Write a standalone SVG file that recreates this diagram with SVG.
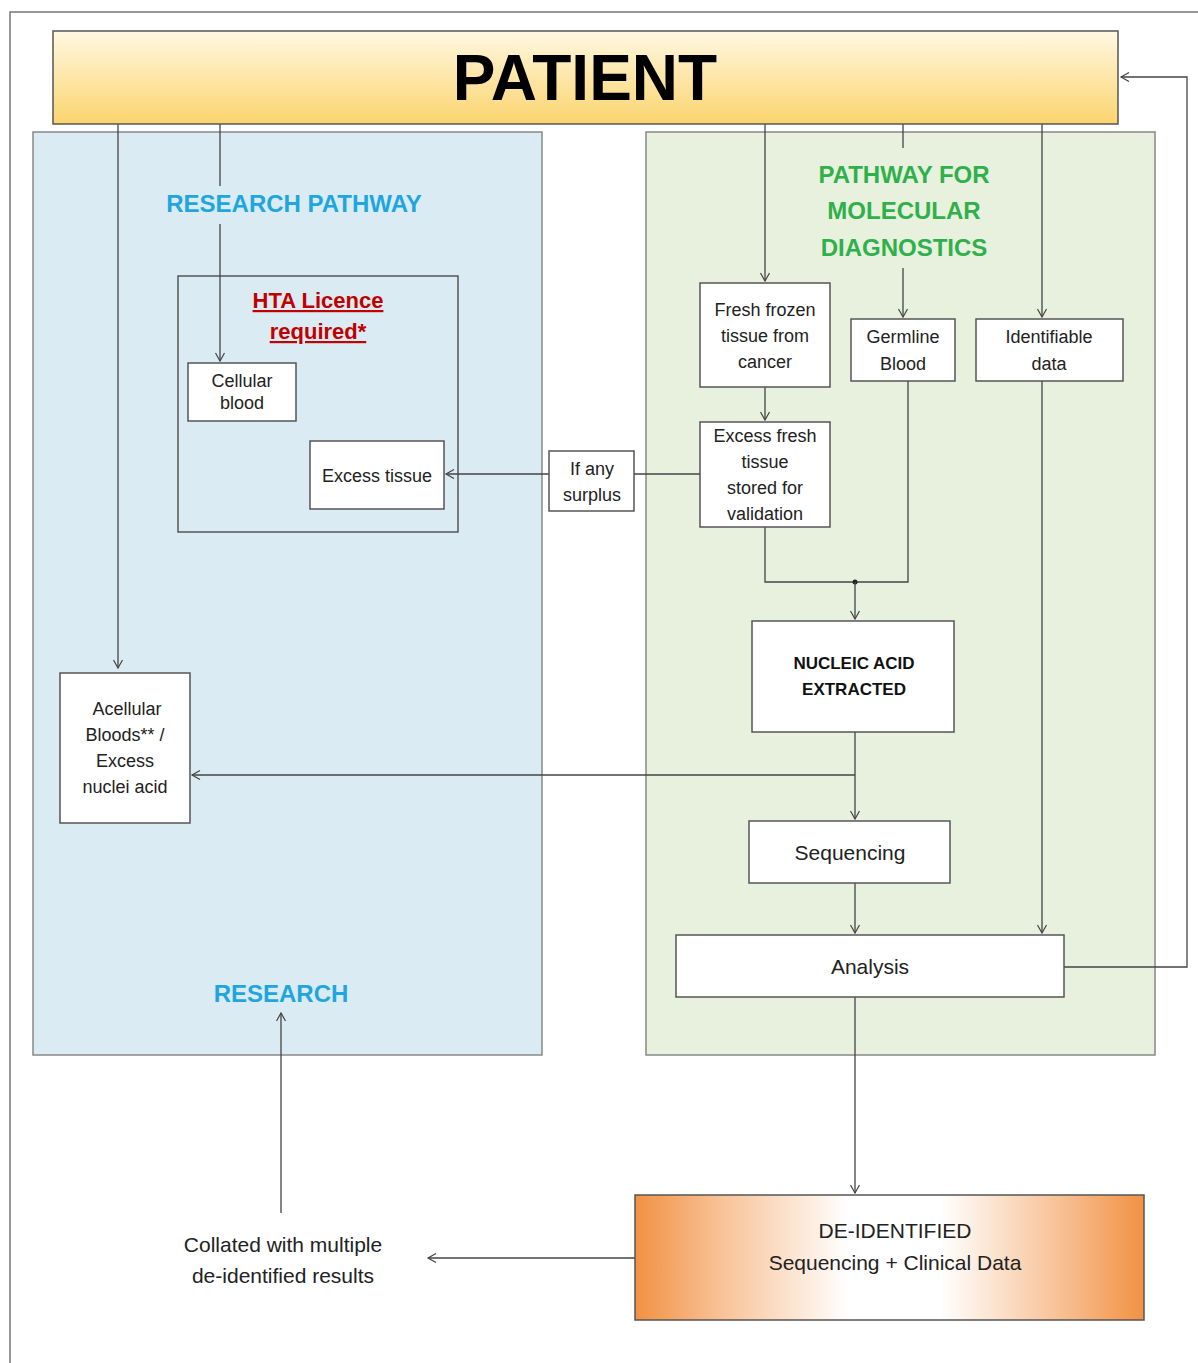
<svg xmlns="http://www.w3.org/2000/svg" width="1198" height="1363" viewBox="0 0 1198 1363">
<defs>
<linearGradient id="gPat" x1="0" y1="0" x2="0" y2="1">
<stop offset="0" stop-color="#fff8e2"/>
<stop offset="1" stop-color="#fbd46e"/>
</linearGradient>
<linearGradient id="gDe" x1="0" y1="0" x2="1" y2="0">
<stop offset="0" stop-color="#f29143"/>
<stop offset="0.18" stop-color="#f8c59c"/>
<stop offset="0.42" stop-color="#ffffff"/>
<stop offset="0.6" stop-color="#ffffff"/>
<stop offset="0.82" stop-color="#f8c59c"/>
<stop offset="1" stop-color="#f29143"/>
</linearGradient>
<marker id="arr" markerWidth="12" markerHeight="12" refX="9" refY="5" orient="auto" markerUnits="userSpaceOnUse">
<path d="M1,0.5 L9,5 L1,9.5" fill="none" stroke="#444" stroke-width="1.2"/>
</marker>
<style>
.box{fill:#fff;stroke:#555;stroke-width:1.5}
.t{font-family:"Liberation Sans",Arial,sans-serif;font-size:18px;fill:#222;text-anchor:middle}
.t21{font-family:"Liberation Sans",Arial,sans-serif;font-size:21px;fill:#222;text-anchor:middle}
.nb{font-family:"Liberation Sans",Arial,sans-serif;font-size:17px;font-weight:bold;fill:#111;text-anchor:middle}
.hd{font-family:"Liberation Sans",Arial,sans-serif;font-weight:bold;font-size:24px;text-anchor:middle}
.hta{font-family:"Liberation Sans",Arial,sans-serif;font-weight:bold;font-size:22px;text-anchor:middle;fill:#c00000;text-decoration:underline}
.ln{fill:none;stroke:#444;stroke-width:1.3}
</style>
</defs>
<rect width="1198" height="1363" fill="#fff"/>
<path d="M10,1363 V12 H1198" fill="none" stroke="#777" stroke-width="1.5"/>

<g id="research-panel">
<rect x="33" y="132" width="509" height="923" fill="#daebf3" stroke="#888" stroke-width="1.5"/>
</g>
<g id="mdx-panel">
<rect x="646" y="132" width="509" height="923" fill="#e8f0de" stroke="#888" stroke-width="1.5"/>
</g>
<g id="hta-box">
<rect x="178" y="276" width="280" height="256" fill="none" stroke="#555" stroke-width="1.5"/>
<text class="hta" x="318" y="308">HTA Licence</text>
<text class="hta" x="318" y="339">required*</text>
</g>

<g id="connectors">
<path class="ln" d="M118,124 V668" marker-end="url(#arr)"/>
<path class="ln" d="M220,124 V186"/>
<path class="ln" d="M220,224 V361" marker-end="url(#arr)"/>
<path class="ln" d="M765,124 V281" marker-end="url(#arr)"/>
<path class="ln" d="M903,124 V148"/>
<path class="ln" d="M903,268 V317" marker-end="url(#arr)"/>
<path class="ln" d="M1042,124 V317" marker-end="url(#arr)"/>
<path class="ln" d="M765,387 V420" marker-end="url(#arr)"/>
<path class="ln" d="M700,474 H634"/>
<path class="ln" d="M549,474 H446" marker-end="url(#arr)"/>
<path class="ln" d="M765,527 V582 H908 V381"/>
<circle cx="855" cy="582" r="2.5" fill="#222"/>
<path class="ln" d="M855,582 V619" marker-end="url(#arr)"/>
<path class="ln" d="M855,732 V819" marker-end="url(#arr)"/>
<path class="ln" d="M855,775 H192" marker-end="url(#arr)"/>
<path class="ln" d="M855,883 V933" marker-end="url(#arr)"/>
<path class="ln" d="M1042,381 V933" marker-end="url(#arr)"/>
<path class="ln" d="M1064,967 H1187 V77 H1121" marker-end="url(#arr)"/>
<path class="ln" d="M855,997 V1193" marker-end="url(#arr)"/>
<path class="ln" d="M635,1258 H428" marker-end="url(#arr)"/>
<path class="ln" d="M281,1213 V1013" marker-end="url(#arr)"/>
</g>

<g id="patient">
<rect x="53" y="31" width="1065" height="93" fill="url(#gPat)" stroke="#555" stroke-width="1.5"/>
<text x="585" y="100" font-family="Liberation Sans,Arial,sans-serif" font-weight="bold" font-size="64" text-anchor="middle" fill="#000">PATIENT</text>
</g>

<g id="research-pathway-label">
<text class="hd" x="294" y="212" fill="#1fa6de">RESEARCH PATHWAY</text>
</g>
<g id="mdx-label">
<text class="hd" x="904" y="183" fill="#2eb04a">PATHWAY FOR</text>
<text class="hd" x="904" y="219" fill="#2eb04a">MOLECULAR</text>
<text class="hd" x="904" y="256" fill="#2eb04a">DIAGNOSTICS</text>
</g>

<g id="cellular-blood">
<rect class="box" x="188" y="363" width="108" height="58"/>
<text class="t" x="242" y="387">Cellular</text>
<text class="t" x="242" y="409">blood</text>
</g>
<g id="excess-tissue">
<rect class="box" x="310" y="441" width="134" height="68"/>
<text class="t" x="377" y="482">Excess tissue</text>
</g>
<g id="if-any-surplus">
<rect class="box" x="549" y="451" width="85" height="60"/>
<text class="t" x="592" y="475">If any</text>
<text class="t" x="592" y="501">surplus</text>
</g>
<g id="fresh-frozen">
<rect class="box" x="700" y="283" width="130" height="104"/>
<text class="t" x="765" y="316">Fresh frozen</text>
<text class="t" x="765" y="342">tissue from</text>
<text class="t" x="765" y="368">cancer</text>
</g>
<g id="excess-fresh">
<rect class="box" x="700" y="422" width="130" height="105"/>
<text class="t" x="765" y="442">Excess fresh</text>
<text class="t" x="765" y="468">tissue</text>
<text class="t" x="765" y="494">stored for</text>
<text class="t" x="765" y="520">validation</text>
</g>
<g id="germline-blood">
<rect class="box" x="851" y="319" width="104" height="62"/>
<text class="t" x="903" y="343">Germline</text>
<text class="t" x="903" y="370">Blood</text>
</g>
<g id="identifiable-data">
<rect class="box" x="976" y="319" width="147" height="62"/>
<text class="t" x="1049" y="343">Identifiable</text>
<text class="t" x="1049" y="370">data</text>
</g>
<g id="nucleic-acid">
<rect class="box" x="752" y="621" width="202" height="111"/>
<text class="nb" x="854" y="669">NUCLEIC ACID</text>
<text class="nb" x="854" y="695">EXTRACTED</text>
</g>
<g id="acellular">
<rect class="box" x="60" y="673" width="130" height="150"/>
<text class="t" x="127" y="715">Acellular</text>
<text class="t" x="125" y="741">Bloods** /</text>
<text class="t" x="125" y="767">Excess</text>
<text class="t" x="125" y="793">nuclei acid</text>
</g>
<g id="sequencing">
<rect class="box" x="749" y="821" width="201" height="62"/>
<text class="t21" x="850" y="860">Sequencing</text>
</g>
<g id="analysis">
<rect class="box" x="676" y="935" width="388" height="62"/>
<text class="t21" x="870" y="974">Analysis</text>
</g>
<g id="research-label">
<text class="hd" x="281" y="1002" fill="#1fa6de">RESEARCH</text>
</g>
<g id="de-identified">
<rect x="635" y="1195" width="509" height="125" fill="url(#gDe)" stroke="#555" stroke-width="1.5"/>
<text class="t21" x="895" y="1238">DE-IDENTIFIED</text>
<text class="t21" x="895" y="1270">Sequencing + Clinical Data</text>
</g>
<g id="collated">
<text class="t21" x="283" y="1252">Collated with multiple</text>
<text class="t21" x="283" y="1283">de-identified results</text>
</g>
</svg>
